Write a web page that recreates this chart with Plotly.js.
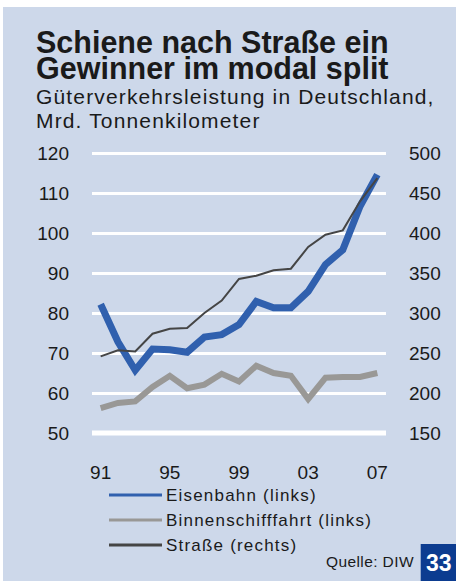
<!DOCTYPE html>
<html><head><meta charset="utf-8">
<script src="https://cdn.plot.ly/plotly-3.0.1.min.js"></script>
<style>
html,body{margin:0;padding:0;background:#fff;}
#chart{position:absolute;left:0;top:0;width:456px;height:581px;}
#chart g.annotation[data-index="2"] text, #chart g.annotation[data-index="3"] text{letter-spacing:1.15px;}
#chart g.annotation[data-index="4"] text, #chart g.annotation[data-index="5"] text, #chart g.annotation[data-index="6"] text{letter-spacing:1.2px;}
#chart g.annotation[data-index="7"] text{letter-spacing:0.4px;}
</style>
</head><body><div id="chart"></div>
<script>
const years = [1991,1992,1993,1994,1995,1996,1997,1998,1999,2000,2001,2002,2003,2004,2005,2006,2007];
const eisenbahn = [82.2,72.8,65.7,71.0,70.8,70.2,74.0,74.6,77.1,82.9,81.3,81.3,85.4,92.1,95.8,106.7,114.6];
const binnenschifffahrt = [56.2,57.5,57.9,61.5,64.3,61.2,62.1,64.8,62.9,66.8,65.0,64.3,58.5,63.8,64.0,64.0,65.0];
const strasse = [245.8,253.3,252.0,274.1,280.4,281.2,300.0,315.5,342.5,346.6,353.3,355.4,382.5,397.9,403.3,439.6,468.7];
const xTickVals = [1991,1995,1999,2003,2007];
const xTickText = ['91','95','99','03','07'];
const leftTicks = [50,60,70,80,90,100,110,120];
const rightTicks = [150,200,250,300,350,400,450,500];
const seriesNames = ['Eisenbahn (links)','Binnenschifffahrt (links)','Straße (rechts)'];
const colors = ['#3060ae','#999896','#454545'];

const W=456,H=581, L=92, R=70, T=145, B=140;
const pw=W-L-R, ph=H-T-B;
const px=x=>(x-L)/pw, py=y=>(H-B-y)/ph;
const FONT='Liberation Sans, Arial, sans-serif';

const traces=[
 {x:years,y:strasse,yaxis:'y2',mode:'lines',name:seriesNames[2],line:{color:colors[2],width:2}},
 {x:years,y:binnenschifffahrt,mode:'lines',name:seriesNames[1],line:{color:colors[1],width:6}},
 {x:years,y:eisenbahn,mode:'lines',name:seriesNames[0],line:{color:colors[0],width:7}}
];

const ann=[];
const addText=(t,x,y,size,opts={})=>ann.push(Object.assign({text:t,xref:'paper',yref:'paper',x:px(x),y:py(y),xanchor:'left',yanchor:'middle',align:'left',showarrow:false,font:{family:FONT,size:size,color:'#1a1a1a'}},opts));
addText('<b>Schiene nach Straße ein</b>',34,42,30.5);
addText('<b>Gewinner im modal split</b>',34,68,30.5);
addText('Güterverkehrsleistung in Deutschland,',34,96,21);
addText('Mrd. Tonnenkilometer',34,121,21);
const legY=[495,520,545];
const shapes=[];
seriesNames.forEach((n,i)=>{
  addText(n,164,legY[i],17);
  shapes.push({type:'line',xref:'paper',yref:'paper',x0:px(109),x1:px(162),y0:py(legY[i]),y1:py(legY[i]),line:{color:colors[i],width:3}});
});
addText('Quelle: DIW',324,561,15.5);
shapes.push({type:'rect',xref:'paper',yref:'paper',x0:px(420.7),x1:px(457),y0:py(544),y1:py(582),fillcolor:'#0c3c90',line:{width:0}});
ann.push({text:'<b>33</b>',xref:'paper',yref:'paper',x:px(439),y:py(563),xanchor:'center',yanchor:'middle',showarrow:false,font:{family:FONT,size:23,color:'#ffffff'}});
shapes.unshift({type:'rect',xref:'paper',yref:'paper',x0:px(3),x1:px(457),y0:py(7),y1:py(582),fillcolor:'#cdd8ea',line:{width:0},layer:'below'});
shapes.push({type:'line',xref:'paper',yref:'y',x0:0,x1:1,y0:50,y1:50,line:{color:'#ffffff',width:5},layer:'below'});

const layout={
 width:W,height:H,margin:{l:L,r:R,t:T,b:B},
 paper_bgcolor:'#ffffff',plot_bgcolor:'rgba(0,0,0,0)',
 showlegend:false,
 font:{family:FONT,color:'#1a1a1a'},
 xaxis:{range:[1990.5,2007.5],tickvals:xTickVals,ticktext:xTickText,showgrid:false,zeroline:false,showline:false,
   ticks:'outside',ticklen:0,tickfont:{size:19,color:'#1a1a1a'},ticklabelstandoff:14},
 yaxis:{range:[48,122],tickvals:leftTicks,showgrid:true,gridcolor:'#ffffff',gridwidth:3,zeroline:false,showline:false,
   ticks:'',tickfont:{size:19,color:'#1a1a1a'},ticklabelstandoff:22},
 yaxis2:{range:[140,510],tickvals:rightTicks,overlaying:'y',side:'right',showgrid:false,zeroline:false,showline:false,
   ticks:'',tickfont:{size:19,color:'#1a1a1a'},ticklabelstandoff:22},
 annotations:ann,shapes:shapes
};
Plotly.newPlot('chart',traces,layout,{staticPlot:true,displayModeBar:false});
</script></body></html>
